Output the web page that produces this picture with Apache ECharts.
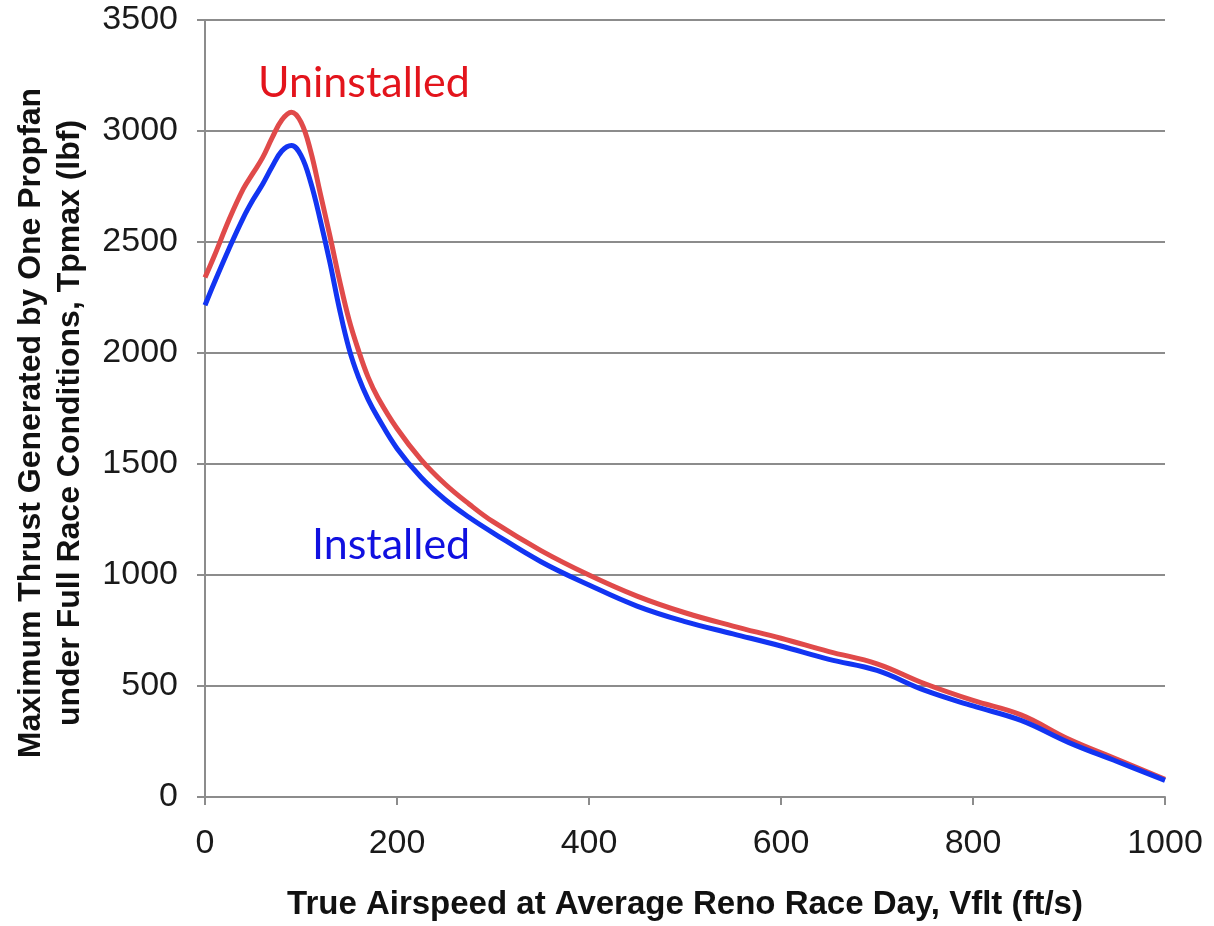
<!DOCTYPE html>
<html>
<head>
<meta charset="utf-8">
<script src="https://cdn.jsdelivr.net/npm/echarts@6/dist/echarts.min.js"></script>
<style>
html,body{margin:0;padding:0;background:#fff;}
#chart{width:1214px;height:926px;}
</style>
</head>
<body>
<div id="chart"></div>
<script>
// Airspeed (ft/s)
const airspeed = [0, 10, 25, 40, 50, 60, 70, 80, 90, 100, 110, 120, 130, 140, 150, 160, 170, 180, 200, 225, 250, 275, 300, 350, 400, 450, 500, 550, 600, 650, 700, 750, 800, 850, 900, 950, 1000];
// Uninstalled thrust (lbf)
const uninstalled = [2340, 2440, 2600, 2740, 2810, 2880, 2970, 3050, 3085, 3040, 2910, 2720, 2530, 2330, 2150, 2010, 1890, 1800, 1660, 1520, 1410, 1320, 1240, 1110, 1000, 905, 830, 770, 715, 655, 600, 510, 435, 370, 260, 170, 80];
// Installed thrust (lbf)
const installed = [2215, 2320, 2470, 2610, 2690, 2760, 2840, 2910, 2935, 2890, 2770, 2600, 2410, 2200, 2020, 1890, 1790, 1710, 1570, 1440, 1340, 1260, 1190, 1060, 955, 860, 790, 735, 680, 620, 570, 480, 410, 345, 245, 160, 75];
// Axis ticks
const xTicks = [0, 200, 400, 600, 800, 1000];
const yTicks = [0, 500, 1000, 1500, 2000, 2500, 3000, 3500];

const xTitle = 'True Airspeed at Average Reno Race Day, Vflt (ft/s)';
const yTitle1 = 'Maximum Thrust Generated by One Propfan';
const yTitle2 = 'under Full Race Conditions, Tpmax (lbf)';

const pair = (ys) => airspeed.map((x, i) => [x, ys[i]]);

const chart = echarts.init(document.getElementById('chart'), null, {renderer: 'canvas'});
const gray = '#8c8c8c';
const labelFont = {color: '#1a1a1a', fontSize: 34, fontFamily: 'Liberation Sans, Arial, sans-serif',
  formatter: (v) => String(v)};

chart.setOption({
  animation: false,
  backgroundColor: '#ffffff',
  grid: {left: 205, right: 49, top: 20, bottom: 129},
  xAxis: {
    type: 'value', min: xTicks[0], max: xTicks[xTicks.length - 1], interval: xTicks[1] - xTicks[0],
    axisLine: {show: true, lineStyle: {color: gray, width: 2}},
    axisTick: {show: true, length: 8, lineStyle: {color: gray, width: 2}},
    axisLabel: Object.assign({margin: 30}, labelFont),
    splitLine: {show: false}
  },
  yAxis: {
    type: 'value', min: yTicks[0], max: yTicks[yTicks.length - 1], interval: yTicks[1] - yTicks[0],
    axisLine: {show: true, lineStyle: {color: gray, width: 2}},
    axisTick: {show: true, length: 8, lineStyle: {color: gray, width: 2}},
    axisLabel: Object.assign({margin: 27}, labelFont),
    splitLine: {show: true, lineStyle: {color: gray, width: 2}}
  },
  series: [
    {
      name: 'Uninstalled', type: 'line', data: pair(uninstalled), smooth: 0.4,
      showSymbol: false, lineStyle: {color: '#e04a4a', width: 5}, z: 3
    },
    {
      name: 'Installed', type: 'line', data: pair(installed), smooth: 0.4,
      showSymbol: false, lineStyle: {color: '#1234f2', width: 5}, z: 4
    }
  ],
  graphic: [
    {
      type: 'text', x: 258, y: 83,
      style: {text: 'Uninstalled', fill: '#e3141c', fontSize: 43, fontFamily: 'Lato, Open Sans, sans-serif',
        align: 'left', verticalAlign: 'middle'}
    },
    {
      type: 'text', x: 312, y: 545,
      style: {text: 'Installed', fill: '#1010e0', fontSize: 43, fontFamily: 'Lato, Open Sans, sans-serif',
        align: 'left', verticalAlign: 'middle'}
    },
    {
      type: 'text', x: 685, y: 905,
      style: {text: xTitle, fill: '#111', fontSize: 33, fontWeight: 'bold',
        fontFamily: 'Liberation Sans, Arial, sans-serif', align: 'center', verticalAlign: 'middle'}
    },
    {
      type: 'text', x: 31, y: 423, rotation: Math.PI / 2,
      style: {text: yTitle1, fill: '#111', fontSize: 32, fontWeight: 'bold',
        fontFamily: 'Liberation Sans, Arial, sans-serif', align: 'center', verticalAlign: 'middle'}
    },
    {
      type: 'text', x: 70, y: 423, rotation: Math.PI / 2,
      style: {text: yTitle2, fill: '#111', fontSize: 32, fontWeight: 'bold',
        fontFamily: 'Liberation Sans, Arial, sans-serif', align: 'center', verticalAlign: 'middle'}
    }
  ]
});
</script>
</body>
</html>
